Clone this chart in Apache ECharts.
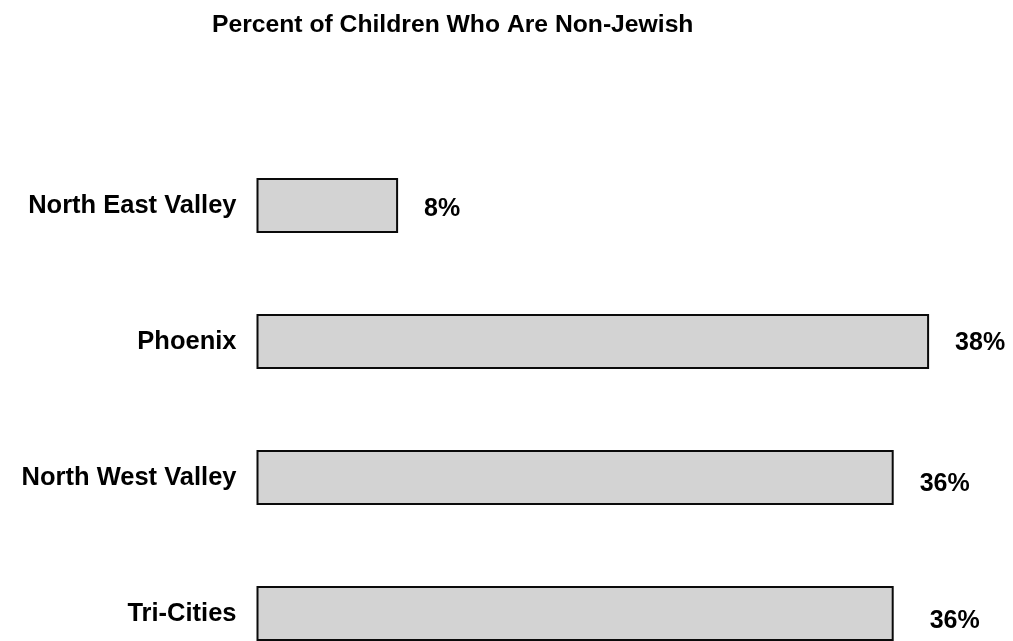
<!DOCTYPE html>
<html>
<head>
<meta charset="utf-8">
<script src="https://cdn.jsdelivr.net/npm/echarts@6/dist/echarts.min.js"></script>
<style>
  html, body { margin: 0; padding: 0; background: #ffffff; }
  #chart { width: 1013px; height: 641px; }
</style>
</head>
<body>
<div id="chart"></div>
<script>
// Regions, listed top to bottom
var regions = ['North East Valley', 'Phoenix', 'North West Valley', 'Tri-Cities'];
// Share of children who are non-Jewish, in percent
var nonJewishPct = [8, 38, 36, 36];
// Small nudges for individual value labels [dx, dy]
var labelNudge = [[0, 4], [0, 2], [0, 7], [10, 8]];

var FONT = '"Liberation Sans", Arial, Helvetica, sans-serif';

var chart = echarts.init(document.getElementById('chart'), null, { renderer: 'canvas' });

chart.setOption({
  backgroundColor: '#ffffff',
  animation: false,
  title: {
    text: 'Percent of Children Who Are Non-Jewish',
    left: 207,
    top: 8,
    textStyle: { fontFamily: FONT, fontWeight: 'bold', fontSize: 24.7, color: '#000000' }
  },
  // category ticks sit on the grid edges (boundaryGap: false), so the
  // first row is at the top edge and the last row at the bottom edge
  grid: {
    left: 256.5,
    top: 205.5,
    width: 708,
    height: 408,
    containLabel: false
  },
  xAxis: {
    type: 'value',
    min: 0,
    max: 40,
    show: false
  },
  yAxis: {
    type: 'category',
    data: regions,
    inverse: true,
    boundaryGap: false,
    axisLine: { show: false },
    axisTick: { show: false },
    splitLine: { show: false },
    axisLabel: {
      margin: 20,
      fontFamily: FONT,
      fontWeight: 'bold',
      fontSize: 25.5,
      color: '#000000'
    }
  },
  series: [{
    type: 'bar',
    barWidth: 55,
    data: nonJewishPct.map(function (v, i) {
      return {
        value: v,
        label: { offset: labelNudge[i] }
      };
    }),
    itemStyle: {
      color: '#d3d3d3',
      borderColor: '#0a0a0a',
      borderWidth: 2
    },
    label: {
      show: true,
      position: 'right',
      distance: 26,
      formatter: '{c}%',
      fontFamily: FONT,
      fontWeight: 'bold',
      fontSize: 25,
      color: '#000000'
    }
  }]
});
</script>
</body>
</html>
